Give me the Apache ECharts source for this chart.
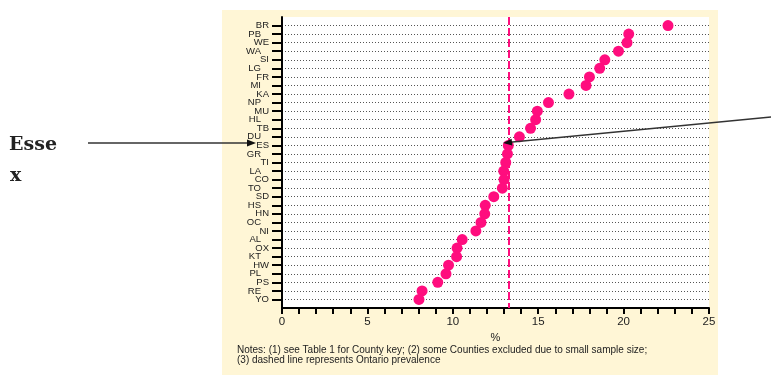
<!DOCTYPE html>
<html>
<head>
<meta charset="utf-8">
<script src="https://cdn.jsdelivr.net/npm/echarts@6/dist/echarts.min.js"></script>
<style>
html,body{margin:0;padding:0;background:#fff;}
#chart{width:771px;height:377px;}
</style>
</head>
<body>
<div id="chart"></div>
<script>
var categories = ['BR','PB','WE','WA','SI','LG','FR','MI','KA','NP','MU','HL','TB','DU','ES','GR','TI','LA','CO','TO','SD','HS','HN','OC','NI','AL','OX','KT','HW','PL','PS','RE','YO'];
var values = [22.6,20.3,20.2,19.7,18.9,18.6,18.0,17.8,16.8,15.6,14.95,14.85,14.55,13.9,13.25,13.2,13.1,12.98,13.0,12.9,12.4,11.9,11.87,11.65,11.35,10.55,10.25,10.22,9.75,9.6,9.12,8.2,8.02];
var ontarioPrevalence = 13.3;
var xTickLabels = [0,5,10,15,20,25];
var notes = ['Notes: (1) see Table 1 for County key; (2) some Counties excluded due to small sample size;','(3) dashed line represents Ontario prevalence'];

var yCats = [''].concat(categories).concat(['']);
var notBlank = function(i, v){ return v !== ''; };
var evenLabel = function(i, v){ var k = categories.indexOf(v); return k >= 0 && k % 2 === 0; };
var oddLabel = function(i, v){ var k = categories.indexOf(v); return k >= 0 && k % 2 === 1; };
var FONT = '"Liberation Sans", Arial, sans-serif';
var MONO = 'bold 19px "DejaVu Serif", serif';
var PINK = '#FF0D7E';

function arrowHead(tx, ty, fx, fy, len, half){
  var dx = tx - fx, dy = ty - fy, d = Math.sqrt(dx*dx+dy*dy);
  dx /= d; dy /= d;
  var bx = tx - dx*len, by = ty - dy*len;
  return [[tx,ty],[bx - dy*half, by + dx*half],[bx + dy*half, by - dx*half]];
}

var chart = echarts.init(document.getElementById('chart'), null, {renderer:'canvas'});
chart.setOption({
  backgroundColor: '#ffffff',
  animation: false,
  grid: {left: 282, right: 62, top: 17, bottom: 69, show: true, backgroundColor: '#ffffff', borderWidth: 0},
  xAxis: {
    type: 'value', min: 0, max: 25, interval: 1,
    axisLine: {show: true, onZero: false, lineStyle: {color: '#000', width: 2}},
    axisTick: {show: true, length: 6, lineStyle: {color: '#000', width: 2}},
    splitLine: {show: false},
    axisLabel: {
      margin: 8, fontSize: 11.5, fontFamily: FONT, color: '#222',
      showMinLabel: true, showMaxLabel: true,
      formatter: function(v){ return xTickLabels.indexOf(v) >= 0 ? String(v) : ''; }
    },
    name: '%', nameLocation: 'middle', nameGap: 20,
    nameTextStyle: {fontSize: 11, fontFamily: FONT, color: '#222'}
  },
  yAxis: [{
    type: 'category', data: yCats, inverse: true, boundaryGap: false,
    axisLine: {show: true, lineStyle: {color: '#000', width: 2}},
    axisTick: {show: true, length: 10, interval: notBlank, lineStyle: {color: '#000', width: 2}},
    splitLine: {show: true, interval: notBlank, lineStyle: {color: '#555', width: 1, type: [1, 2]}},
    axisLabel: {
      interval: evenLabel, margin: 13, fontSize: 9.5, fontFamily: FONT, color: '#222'
    }
  }, {
    type: 'category', data: yCats, inverse: true, boundaryGap: false, position: 'left',
    axisLine: {show: false}, axisTick: {show: false}, splitLine: {show: false},
    axisLabel: {
      interval: oddLabel, margin: 21, fontSize: 9.5, fontFamily: FONT, color: '#222',
      padding: [0, 0, 1, 0]
    }
  }],
  series: [{
    type: 'scatter',
    yAxisIndex: 0,
    data: values.map(function(v, i){ return [v, categories[i]]; }),
    symbolSize: 11,
    itemStyle: {color: PINK, opacity: 1},
    z: 3,
    markLine: {
      silent: true, symbol: 'none', label: {show: false},
      lineStyle: {color: PINK, width: 2, type: [8, 3]},
      data: [{xAxis: ontarioPrevalence}],
      z: 2
    }
  }],
  graphic: [
    {type: 'rect', z: -100, shape: {x: 222, y: 10, width: 496, height: 365}, style: {fill: '#FFF6D6'}},
    {type: 'text', left: 237, top: 345, z: 10, style: {text: notes[0], font: '10px ' + FONT, fill: '#222'}},
    {type: 'text', left: 237, top: 355, z: 10, style: {text: notes[1], font: '10px ' + FONT, fill: '#222'}},
    {type: 'text', left: 9, top: 136, z: 10, style: {text: 'Esse', font: MONO, fill: '#222'}},
    {type: 'text', left: 10, top: 167, z: 10, style: {text: 'x', font: MONO, fill: '#222'}},
    {type: 'line', z: 20, shape: {x1: 88, y1: 143, x2: 248, y2: 143}, style: {stroke: '#333', lineWidth: 1.5}},
    {type: 'polygon', z: 20, shape: {points: arrowHead(256, 143, 88, 143, 9, 3.5)}, style: {fill: '#111'}},
    {type: 'line', z: 20, shape: {x1: 771, y1: 117, x2: 510, y2: 142.3}, style: {stroke: '#333', lineWidth: 1.5}},
    {type: 'polygon', z: 20, shape: {points: arrowHead(503, 143, 771, 117, 9, 3.5)}, style: {fill: '#111'}}
  ]
});
</script>
</body>
</html>
